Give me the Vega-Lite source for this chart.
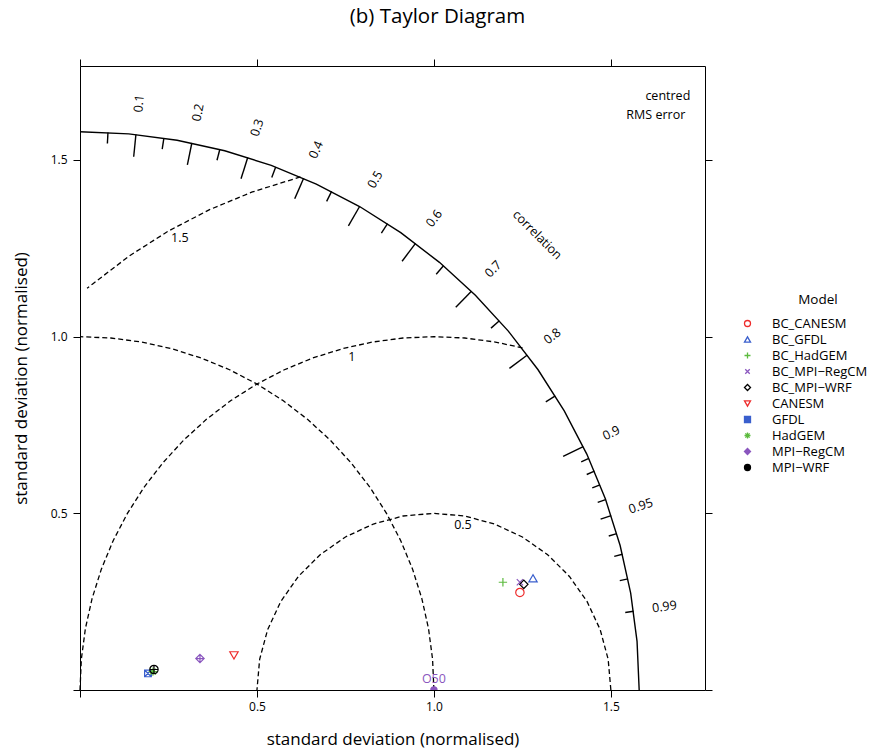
{
  "$schema": "https://vega.github.io/schema/vega-lite/v6.json",
  "autosize": {"type": "none"},
  "padding": {"left": 80, "top": 66, "right": 175, "bottom": 60},
  "width": 625,
  "height": 624,
  "title": {"text": "(b) Taylor Diagram", "fontSize": 20.5, "fontWeight": "normal", "font": "Open Sans", "color": "#000", "anchor": "middle", "dx": 45, "offset": 11, "baseline": "bottom"},
  "config": {
    "font": "Open Sans",
    "view": {"stroke": "#000", "strokeWidth": 1},
    "axis": {"grid": false, "domain": false, "tickColor": "#000", "tickSize": 7, "tickWidth": 1, "labelFont": "Open Sans", "labelFontSize": 12, "labelColor": "#000", "titleFont": "Open Sans", "titleFontSize": 17, "titleFontWeight": "normal", "titleColor": "#000", "labelFlush": false}
  },
  "datasets": {
    "outerArc": [
      {"i": 0, "x": 1.58, "y": 0}, {"i": 1, "x": 1.574, "y": 0.1377}, {"i": 2, "x": 1.556, "y": 0.2744}, {"i": 3, "x": 1.5262, "y": 0.4089}, {"i": 4, "x": 1.4847, "y": 0.5404}, {"i": 5, "x": 1.432, "y": 0.6677}, {"i": 6, "x": 1.3683, "y": 0.79}, {"i": 7, "x": 1.2943, "y": 0.9063}, {"i": 8, "x": 1.2103, "y": 1.0156}, {"i": 9, "x": 1.1172, "y": 1.1172}, {"i": 10, "x": 1.0156, "y": 1.2103}, {"i": 11, "x": 0.9063, "y": 1.2943}, {"i": 12, "x": 0.79, "y": 1.3683}, {"i": 13, "x": 0.6677, "y": 1.432}, {"i": 14, "x": 0.5404, "y": 1.4847}, {"i": 15, "x": 0.4089, "y": 1.5262}, {"i": 16, "x": 0.2744, "y": 1.556}, {"i": 17, "x": 0.1377, "y": 1.574}, {"i": 18, "x": 0, "y": 1.58}
    ],
    "dashArcs": [
      {"a": "sd1", "i": 0, "x": 1, "y": 0}, {"a": "sd1", "i": 1, "x": 0.9962, "y": 0.0872}, {"a": "sd1", "i": 2, "x": 0.9848, "y": 0.1736}, {"a": "sd1", "i": 3, "x": 0.9659, "y": 0.2588}, {"a": "sd1", "i": 4, "x": 0.9397, "y": 0.342}, {"a": "sd1", "i": 5, "x": 0.9063, "y": 0.4226}, {"a": "sd1", "i": 6, "x": 0.866, "y": 0.5}, {"a": "sd1", "i": 7, "x": 0.8192, "y": 0.5736}, {"a": "sd1", "i": 8, "x": 0.766, "y": 0.6428}, {"a": "sd1", "i": 9, "x": 0.7071, "y": 0.7071}, {"a": "sd1", "i": 10, "x": 0.6428, "y": 0.766}, {"a": "sd1", "i": 11, "x": 0.5736, "y": 0.8192}, {"a": "sd1", "i": 12, "x": 0.5, "y": 0.866}, {"a": "sd1", "i": 13, "x": 0.4226, "y": 0.9063}, {"a": "sd1", "i": 14, "x": 0.342, "y": 0.9397}, {"a": "sd1", "i": 15, "x": 0.2588, "y": 0.9659}, {"a": "sd1", "i": 16, "x": 0.1736, "y": 0.9848}, {"a": "sd1", "i": 17, "x": 0.0872, "y": 0.9962}, {"a": "sd1", "i": 18, "x": 0, "y": 1},
      {"a": "rms05", "i": 0, "x": 1.5, "y": 0}, {"a": "rms05", "i": 1, "x": 1.4924, "y": 0.0868}, {"a": "rms05", "i": 2, "x": 1.4698, "y": 0.171}, {"a": "rms05", "i": 3, "x": 1.433, "y": 0.25}, {"a": "rms05", "i": 4, "x": 1.383, "y": 0.3214}, {"a": "rms05", "i": 5, "x": 1.3214, "y": 0.383}, {"a": "rms05", "i": 6, "x": 1.25, "y": 0.433}, {"a": "rms05", "i": 7, "x": 1.171, "y": 0.4698}, {"a": "rms05", "i": 8, "x": 1.0868, "y": 0.4924}, {"a": "rms05", "i": 9, "x": 1, "y": 0.5}, {"a": "rms05", "i": 10, "x": 0.9132, "y": 0.4924}, {"a": "rms05", "i": 11, "x": 0.829, "y": 0.4698}, {"a": "rms05", "i": 12, "x": 0.75, "y": 0.433}, {"a": "rms05", "i": 13, "x": 0.6786, "y": 0.383}, {"a": "rms05", "i": 14, "x": 0.617, "y": 0.3214}, {"a": "rms05", "i": 15, "x": 0.567, "y": 0.25}, {"a": "rms05", "i": 16, "x": 0.5302, "y": 0.171}, {"a": "rms05", "i": 17, "x": 0.5076, "y": 0.0868}, {"a": "rms05", "i": 18, "x": 0.5, "y": 0},
      {"a": "rms1", "i": 0, "x": 1.2504, "y": 0.9681}, {"a": "rms1", "i": 1, "x": 1.1736, "y": 0.9848}, {"a": "rms1", "i": 2, "x": 1.0872, "y": 0.9962}, {"a": "rms1", "i": 3, "x": 1, "y": 1}, {"a": "rms1", "i": 4, "x": 0.9128, "y": 0.9962}, {"a": "rms1", "i": 5, "x": 0.8264, "y": 0.9848}, {"a": "rms1", "i": 6, "x": 0.7412, "y": 0.9659}, {"a": "rms1", "i": 7, "x": 0.658, "y": 0.9397}, {"a": "rms1", "i": 8, "x": 0.5774, "y": 0.9063}, {"a": "rms1", "i": 9, "x": 0.5, "y": 0.866}, {"a": "rms1", "i": 10, "x": 0.4264, "y": 0.8192}, {"a": "rms1", "i": 11, "x": 0.3572, "y": 0.766}, {"a": "rms1", "i": 12, "x": 0.2929, "y": 0.7071}, {"a": "rms1", "i": 13, "x": 0.234, "y": 0.6428}, {"a": "rms1", "i": 14, "x": 0.1808, "y": 0.5736}, {"a": "rms1", "i": 15, "x": 0.134, "y": 0.5}, {"a": "rms1", "i": 16, "x": 0.0937, "y": 0.4226}, {"a": "rms1", "i": 17, "x": 0.0603, "y": 0.342}, {"a": "rms1", "i": 18, "x": 0.0341, "y": 0.2588}, {"a": "rms1", "i": 19, "x": 0.0152, "y": 0.1736}, {"a": "rms1", "i": 20, "x": 0.0038, "y": 0.0872}, {"a": "rms1", "i": 21, "x": 0, "y": 0},
      {"a": "rms15", "i": 0, "x": 0.6229, "y": 1.4519}, {"a": "rms15", "i": 1, "x": 0.487, "y": 1.4095}, {"a": "rms15", "i": 2, "x": 0.3661, "y": 1.3595}, {"a": "rms15", "i": 3, "x": 0.25, "y": 1.299}, {"a": "rms15", "i": 4, "x": 0.1396, "y": 1.2287}, {"a": "rms15", "i": 5, "x": 0.0358, "y": 1.1491}, {"a": "rms15", "i": 6, "x": 0.02, "y": 1.1371}
    ],
    "ticks": [
      {"c": 0.05, "x": 0.079, "y": 1.578, "x2": 0.0774, "y2": 1.5465},
      {"c": 0.1, "x": 0.158, "y": 1.5721, "x2": 0.1517, "y2": 1.5092},
      {"c": 0.15, "x": 0.237, "y": 1.5621, "x2": 0.2323, "y2": 1.5309},
      {"c": 0.2, "x": 0.316, "y": 1.5481, "x2": 0.3034, "y2": 1.4862},
      {"c": 0.25, "x": 0.395, "y": 1.5298, "x2": 0.3871, "y2": 1.4992},
      {"c": 0.3, "x": 0.474, "y": 1.5072, "x2": 0.455, "y2": 1.4469},
      {"c": 0.35, "x": 0.553, "y": 1.4801, "x2": 0.5419, "y2": 1.4505},
      {"c": 0.4, "x": 0.632, "y": 1.4481, "x2": 0.6067, "y2": 1.3902},
      {"c": 0.45, "x": 0.711, "y": 1.411, "x2": 0.6968, "y2": 1.3828},
      {"c": 0.5, "x": 0.79, "y": 1.3683, "x2": 0.7584, "y2": 1.3136},
      {"c": 0.55, "x": 0.869, "y": 1.3196, "x2": 0.8516, "y2": 1.2932},
      {"c": 0.6, "x": 0.948, "y": 1.264, "x2": 0.9101, "y2": 1.2134},
      {"c": 0.65, "x": 1.027, "y": 1.2007, "x2": 1.0065, "y2": 1.1767},
      {"c": 0.7, "x": 1.106, "y": 1.1283, "x2": 1.0618, "y2": 1.0832},
      {"c": 0.75, "x": 1.185, "y": 1.0451, "x2": 1.1613, "y2": 1.0242},
      {"c": 0.8, "x": 1.264, "y": 0.948, "x2": 1.2134, "y2": 0.9101},
      {"c": 0.85, "x": 1.343, "y": 0.8323, "x2": 1.3161, "y2": 0.8157},
      {"c": 0.9, "x": 1.422, "y": 0.6887, "x2": 1.3651, "y2": 0.6612},
      {"c": 0.91, "x": 1.4378, "y": 0.6553, "x2": 1.4162, "y2": 0.6454},
      {"c": 0.92, "x": 1.4536, "y": 0.6192, "x2": 1.4318, "y2": 0.6099},
      {"c": 0.93, "x": 1.4694, "y": 0.5807, "x2": 1.4474, "y2": 0.572},
      {"c": 0.94, "x": 1.4852, "y": 0.539, "x2": 1.4629, "y2": 0.531},
      {"c": 0.95, "x": 1.501, "y": 0.4934, "x2": 1.471, "y2": 0.4835},
      {"c": 0.96, "x": 1.5168, "y": 0.4424, "x2": 1.494, "y2": 0.4358},
      {"c": 0.97, "x": 1.5326, "y": 0.3841, "x2": 1.5096, "y2": 0.3783},
      {"c": 0.98, "x": 1.5484, "y": 0.3144, "x2": 1.5252, "y2": 0.3097},
      {"c": 0.99, "x": 1.5642, "y": 0.2229, "x2": 1.5407, "y2": 0.2195}
    ],
    "corrLabels": [
      {"label": "0.1", "theta": 84.26, "x": 0.1668, "y": 1.6596},
      {"label": "0.2", "theta": 78.46, "x": 0.3336, "y": 1.6343},
      {"label": "0.3", "theta": 72.54, "x": 0.5004, "y": 1.5912},
      {"label": "0.4", "theta": 66.42, "x": 0.6672, "y": 1.5288},
      {"label": "0.5", "theta": 60, "x": 0.834, "y": 1.4445},
      {"label": "0.6", "theta": 53.13, "x": 1.0008, "y": 1.3344},
      {"label": "0.7", "theta": 45.57, "x": 1.1676, "y": 1.1912},
      {"label": "0.8", "theta": 36.87, "x": 1.3344, "y": 1.0008},
      {"label": "0.9", "theta": 25.84, "x": 1.5012, "y": 0.7271},
      {"label": "0.95", "theta": 18.19, "x": 1.5846, "y": 0.5208},
      {"label": "0.99", "theta": 8.11, "x": 1.6513, "y": 0.2353}
    ],
    "plainLabels": [
      {"label": "1.5", "x": 0.282, "y": 1.279},
      {"label": "1", "x": 0.768, "y": 0.942},
      {"label": "0.5", "x": 1.082, "y": 0.466},
      {"label": "centred", "x": 1.661, "y": 1.681},
      {"label": "RMS error", "x": 1.627, "y": 1.628}
    ],
    "models": [
      {"Model": "BC_CANESM", "x": 1.243, "y": 0.276},
      {"Model": "BC_GFDL", "x": 1.28, "y": 0.316},
      {"Model": "BC_HadGEM", "x": 1.195, "y": 0.305},
      {"Model": "BC_MPI−RegCM", "x": 1.243, "y": 0.305},
      {"Model": "BC_MPI−WRF", "x": 1.254, "y": 0.299},
      {"Model": "CANESM", "x": 0.435, "y": 0.098},
      {"Model": "GFDL", "x": 0.192, "y": 0.047},
      {"Model": "HadGEM", "x": 0.206, "y": 0.052},
      {"Model": "MPI−RegCM", "x": 0.339, "y": 0.089},
      {"Model": "MPI−WRF", "x": 0.209, "y": 0.058}
    ]
  },
  "layer": [
    {
      "data": {"name": "dashArcs"},
      "mark": {"type": "line", "stroke": "#000", "strokeWidth": 1.3, "strokeDash": [5, 3]},
      "encoding": {
        "x": {"field": "x", "type": "quantitative", "scale": {"domain": [0, 1.766], "nice": false, "zero": false}, "axis": {"orient": "bottom", "values": [0, 0.5, 1, 1.5], "labelExpr": "datum.value == 0 ? '' : format(datum.value, '.1f')", "title": "standard deviation (normalised)", "labelPadding": 4, "titlePadding": 19}},
        "y": {"field": "y", "type": "quantitative", "scale": {"domain": [0, 1.766], "nice": false, "zero": false}, "axis": {"orient": "left", "values": [0, 0.5, 1, 1.5], "labelExpr": "datum.value == 0 ? '' : format(datum.value, '.1f')", "title": "standard deviation (normalised)", "labelPadding": 6, "titlePadding": 20}},
        "detail": {"field": "a", "type": "nominal"},
        "order": {"field": "i", "type": "quantitative"}
      }
    },
    {
      "data": {"name": "outerArc"},
      "mark": {"type": "line", "stroke": "#000", "strokeWidth": 1.4},
      "encoding": {
        "x": {"field": "x", "type": "quantitative", "axis": {"orient": "top", "values": [0, 0.5, 1, 1.5], "labels": false, "title": null}},
        "y": {"field": "y", "type": "quantitative", "axis": {"orient": "right", "values": [0, 0.5, 1, 1.5], "labels": false, "title": null}},
        "order": {"field": "i", "type": "quantitative"}
      }
    },
    {
      "data": {"name": "ticks"},
      "mark": {"type": "rule", "stroke": "#000", "strokeWidth": 1.4},
      "encoding": {
        "x": {"field": "x", "type": "quantitative", "axis": null},
        "y": {"field": "y", "type": "quantitative", "axis": null},
        "x2": {"field": "x2"},
        "y2": {"field": "y2"}
      }
    },
    {
      "data": {"name": "corrLabels"},
      "mark": {"type": "text", "fontSize": 12.5, "color": "#000", "align": "center", "baseline": "middle"},
      "encoding": {
        "x": {"field": "x", "type": "quantitative", "axis": null},
        "y": {"field": "y", "type": "quantitative", "axis": null},
        "text": {"field": "label"},
        "angle": {"field": "theta", "type": "quantitative", "scale": {"domain": [0, 90], "range": [0, -90]}, "legend": null}
      }
    },
    {
      "data": {"name": "plainLabels"},
      "mark": {"type": "text", "fontSize": 12.5, "color": "#000", "align": "center", "baseline": "middle"},
      "encoding": {
        "x": {"field": "x", "type": "quantitative", "axis": null},
        "y": {"field": "y", "type": "quantitative", "axis": null},
        "text": {"field": "label"}
      }
    },
    {
      "data": {"values": [{"label": "correlation", "x": 1.292, "y": 1.288}]},
      "mark": {"type": "text", "fontSize": 12.5, "color": "#000", "align": "center", "baseline": "middle", "angle": 45},
      "encoding": {
        "x": {"field": "x", "type": "quantitative", "axis": null},
        "y": {"field": "y", "type": "quantitative", "axis": null},
        "text": {"field": "label"}
      }
    },
    {
      "data": {"values": [{"label": "Model", "x": 2.085, "y": 1.103}]},
      "mark": {"type": "text", "fontSize": 13.5, "color": "#000", "align": "center", "baseline": "middle"},
      "encoding": {
        "x": {"field": "x", "type": "quantitative", "axis": null},
        "y": {"field": "y", "type": "quantitative", "axis": null},
        "text": {"field": "label"}
      }
    },
    {
      "data": {"values": [{"label": "O50", "x": 1.0, "y": 0}]},
      "mark": {"type": "point", "shape": "circle", "filled": true, "color": "#8A56BE", "size": 55, "opacity": 1, "clip": true},
      "encoding": {
        "x": {"field": "x", "type": "quantitative", "axis": null},
        "y": {"field": "y", "type": "quantitative", "axis": null}
      }
    },
    {
      "data": {"values": [{"label": "O50", "x": 1.0, "y": 0.031}]},
      "mark": {"type": "text", "fontSize": 12.5, "color": "#8A56BE", "align": "center", "baseline": "middle"},
      "encoding": {
        "x": {"field": "x", "type": "quantitative", "axis": null},
        "y": {"field": "y", "type": "quantitative", "axis": null},
        "text": {"field": "label"}
      }
    },
    {
      "data": {"name": "models"},
      "mark": {"type": "point", "filled": false, "size": 70, "strokeWidth": 1.2, "opacity": 1},
      "encoding": {
        "x": {"field": "x", "type": "quantitative", "axis": null},
        "y": {"field": "y", "type": "quantitative", "axis": null},
        "shape": {"field": "Model", "type": "nominal", "legend": null, "scale": {"domain": ["BC_CANESM", "BC_GFDL", "BC_HadGEM", "BC_MPI−RegCM", "BC_MPI−WRF", "CANESM", "GFDL", "HadGEM", "MPI−RegCM", "MPI−WRF"], "range": ["circle", "triangle-up", "M-1,0L1,0M0,-1L0,1", "M-0.75,-0.75L0.75,0.75M-0.75,0.75L0.75,-0.75", "diamond", "triangle-down", "M-0.8,-0.8H0.8V0.8H-0.8ZM-0.8,-0.8L0.8,0.8M-0.8,0.8L0.8,-0.8", "M-1,0L1,0M0,-1L0,1M-0.7,-0.7L0.7,0.7M-0.7,0.7L0.7,-0.7", "M0,-1L1,0L0,1L-1,0ZM-1,0L1,0M0,-1L0,1", "M-1,0A1,1 0 1 0 1,0A1,1 0 1 0 -1,0ZM-1,0L1,0M0,-1L0,1"]}},
        "stroke": {"field": "Model", "type": "nominal", "legend": null, "scale": {"domain": ["BC_CANESM", "BC_GFDL", "BC_HadGEM", "BC_MPI−RegCM", "BC_MPI−WRF", "CANESM", "GFDL", "HadGEM", "MPI−RegCM", "MPI−WRF"], "range": ["#EE2C2C", "#3A5FCD", "#5DBB3F", "#8A56BE", "#000000", "#EE2C2C", "#3A5FCD", "#5DBB3F", "#8A56BE", "#000000"]}}
      }
    },
    {
      "data": {"values": []},
      "mark": {"type": "point", "filled": false, "strokeWidth": 1.3},
      "encoding": {
        "shape": {"field": "Model", "type": "nominal", "title": null, "scale": {"domain": ["BC_CANESM", "BC_GFDL", "BC_HadGEM", "BC_MPI−RegCM", "BC_MPI−WRF", "CANESM", "GFDL", "HadGEM", "MPI−RegCM", "MPI−WRF"], "range": ["circle", "triangle-up", "M-1,0L1,0M0,-1L0,1", "M-0.75,-0.75L0.75,0.75M-0.75,0.75L0.75,-0.75", "diamond", "triangle-down", "square", "M-1,0L1,0M0,-1L0,1M-0.7,-0.7L0.7,0.7M-0.7,0.7L0.7,-0.7", "diamond", "circle"]},
          "legend": {"title": null, "orient": "none", "legendX": 661, "legendY": 251, "padding": 0, "labelFont": "Open Sans", "labelFontSize": 13, "labelColor": "#000", "labelOffset": 18, "symbolSize": 36, "symbolStrokeWidth": 1.3, "rowPadding": 2, "symbolOpacity": 1}},
        "stroke": {"field": "Model", "type": "nominal", "title": null, "scale": {"domain": ["BC_CANESM", "BC_GFDL", "BC_HadGEM", "BC_MPI−RegCM", "BC_MPI−WRF", "CANESM", "GFDL", "HadGEM", "MPI−RegCM", "MPI−WRF"], "range": ["#EE2C2C", "#3A5FCD", "#5DBB3F", "#8A56BE", "#000000", "#EE2C2C", "#3A5FCD", "#5DBB3F", "#8A56BE", "#000000"]},
          "legend": {"title": null, "orient": "none", "legendX": 661, "legendY": 251, "padding": 0, "labelFont": "Open Sans", "labelFontSize": 13, "labelColor": "#000", "labelOffset": 18, "symbolSize": 36, "symbolStrokeWidth": 1.3, "rowPadding": 2, "symbolOpacity": 1}},
        "fill": {"field": "Model", "type": "nominal", "title": null, "scale": {"domain": ["BC_CANESM", "BC_GFDL", "BC_HadGEM", "BC_MPI−RegCM", "BC_MPI−WRF", "CANESM", "GFDL", "HadGEM", "MPI−RegCM", "MPI−WRF"], "range": ["transparent", "transparent", "transparent", "transparent", "transparent", "transparent", "#3A5FCD", "transparent", "#8A56BE", "#000000"]},
          "legend": {"title": null, "orient": "none", "legendX": 661, "legendY": 251, "padding": 0, "labelFont": "Open Sans", "labelFontSize": 13, "labelColor": "#000", "labelOffset": 18, "symbolSize": 36, "symbolStrokeWidth": 1.3, "rowPadding": 2, "symbolOpacity": 1}}
      }
    }
  ],
  "resolve": {
    "scale": {"shape": "independent", "stroke": "independent", "fill": "independent"},
    "axis": {"x": "independent", "y": "independent"}
  }
}
